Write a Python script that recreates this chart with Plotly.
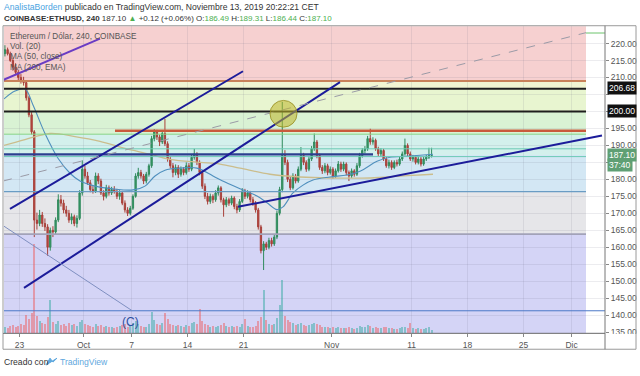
import plotly.graph_objects as go
import pandas as pd

# ---------------- data (8h candles) ----------------
opens = [217.0, 218.2, 217.0, 215.0, 213.0, 211.5, 210.0, 209.0, 208.5, 204.0,
         199.0, 194.0, 168.0, 167.0, 169.5, 167.0, 166.0, 160.0, 165.0, 164.5,
         168.0, 174.0, 173.0, 171.0, 170.0, 168.0, 169.0, 167.0, 168.5, 176.0,
         183.0, 181.0, 179.0, 177.0, 176.5, 181.0, 179.5, 176.0, 175.0, 177.5,
         176.0, 177.0, 176.5, 175.0, 176.0, 173.0, 171.0, 170.0, 171.5, 175.0,
         181.0, 182.0, 181.0, 179.5, 181.5, 184.0, 192.0, 194.0, 192.5, 191.0,
         193.5, 190.5, 186.0, 184.0, 182.0, 183.5, 181.5, 183.0, 182.0, 184.0,
         183.0, 186.5, 187.5, 185.0, 182.0, 178.0, 175.0, 173.5, 175.0, 174.0,
         176.0, 177.5, 174.0, 172.5, 174.0, 173.0, 174.5, 172.0, 171.0, 173.5,
         176.5, 175.0, 176.0, 174.0, 173.0, 171.0, 166.0, 159.0, 161.0, 160.0,
         162.0, 161.0, 163.0, 170.0, 177.0, 187.0, 185.0, 180.0, 177.5, 181.0,
         179.5, 183.0, 187.0, 185.0, 183.0, 186.0, 189.0, 191.0, 187.0, 183.5,
         182.5, 184.0, 182.0, 183.0, 181.0, 182.5, 184.5, 183.0, 184.5, 182.0,
         181.0, 182.5, 181.5, 184.0, 187.0, 188.5, 189.0, 192.0, 191.0, 191.5,
         189.0, 187.5, 188.5, 186.0, 184.0, 185.0, 183.5, 185.0, 184.5, 186.0,
         187.5, 190.0, 187.5, 186.0, 186.5, 185.0, 186.0, 184.5, 186.0, 186.5,
         187.0]
highs = [219.5, 218.8, 217.6, 215.8, 214.2, 212.3, 211.0, 210.2, 209.0, 204.6,
         199.8, 194.5, 170.2, 171.0, 170.4, 168.5, 166.8, 165.8, 166.2, 168.8,
         175.6, 175.4, 174.0, 172.2, 171.0, 170.0, 169.6, 169.4, 176.8, 185.6,
         184.0, 182.2, 179.8, 178.0, 182.0, 181.8, 180.2, 176.8, 178.4, 178.2,
         177.8, 178.0, 177.2, 176.8, 176.6, 173.8, 171.8, 172.2, 175.6, 181.8,
         183.4, 182.8, 181.6, 182.2, 184.6, 192.8, 194.8, 194.6, 193.2, 194.2,
         197.8, 191.2, 186.8, 184.8, 184.4, 184.2, 183.8, 183.6, 185.0, 184.8,
         187.2, 189.0, 188.0, 185.6, 182.6, 178.8, 176.0, 175.8, 175.6, 176.8,
         178.2, 178.0, 174.6, 174.8, 174.6, 175.2, 175.0, 172.8, 174.2, 177.4,
         177.2, 176.8, 176.6, 174.8, 173.6, 171.6, 166.6, 161.8, 161.6, 162.8,
         162.8, 163.8, 170.8, 177.8, 202.8, 188.6, 185.8, 180.8, 181.8, 181.6,
         183.8, 189.5, 187.8, 185.6, 186.8, 189.8, 193.5, 191.6, 187.6, 184.2,
         184.8, 184.6, 183.8, 183.6, 183.2, 185.4, 185.2, 185.2, 185.0, 182.6,
         183.2, 183.0, 184.8, 187.8, 189.2, 189.8, 192.8, 194.9, 192.4, 192.0,
         189.6, 189.2, 189.0, 186.6, 185.8, 185.6, 185.6, 185.8, 186.6, 188.2,
         192.0, 190.6, 188.2, 187.2, 187.0, 186.8, 186.6, 186.6, 187.2, 189.3,
         189.31]
lows = [216.2, 216.5, 214.6, 212.0, 210.8, 209.2, 208.2, 207.6, 203.2, 198.3,
        193.2, 163.0, 165.2, 166.2, 166.0, 164.8, 157.5, 159.0, 163.0, 163.8,
        167.4, 172.0, 170.0, 169.0, 167.2, 166.8, 166.2, 165.8, 168.0, 175.2,
        180.2, 178.4, 176.2, 175.8, 176.0, 178.6, 175.4, 173.8, 174.4, 175.2,
        175.4, 175.8, 174.2, 174.0, 172.4, 170.2, 169.2, 169.4, 171.0, 174.6,
        180.2, 180.2, 178.6, 178.8, 180.8, 183.4, 191.2, 191.6, 189.8, 190.4,
        189.8, 185.2, 183.2, 180.6, 181.2, 180.4, 180.8, 181.2, 181.4, 182.2,
        182.4, 185.8, 184.2, 181.2, 177.2, 174.2, 172.6, 172.8, 173.0, 173.4,
        175.2, 173.2, 169.0, 171.8, 172.2, 172.4, 171.2, 170.0, 170.4, 173.0,
        174.2, 174.4, 173.2, 172.2, 170.2, 165.2, 158.2, 153.3, 159.2, 159.4,
        160.2, 160.4, 162.4, 169.4, 176.2, 184.2, 179.2, 176.8, 177.0, 178.8,
        179.0, 182.4, 184.2, 182.2, 182.4, 185.4, 188.4, 186.2, 182.8, 181.6,
        181.8, 181.2, 181.4, 180.2, 180.4, 182.0, 182.2, 182.4, 181.2, 179.5,
        180.4, 180.8, 181.0, 183.4, 186.4, 187.6, 188.4, 190.2, 190.2, 188.4,
        186.8, 186.8, 185.4, 183.4, 183.2, 182.8, 183.0, 183.8, 184.0, 185.4,
        187.0, 186.8, 185.4, 185.2, 184.4, 184.4, 183.8, 184.0, 185.4, 186.0,
        186.44]
closes = [218.2, 217.0, 215.0, 213.0, 211.5, 210.0, 209.0, 208.5, 204.0, 199.0,
          194.0, 168.0, 167.0, 169.5, 167.0, 166.0, 160.0, 165.0, 164.5, 168.0,
          174.0, 173.0, 171.0, 170.0, 168.0, 169.0, 167.0, 168.5, 176.0, 183.0,
          181.0, 179.0, 177.0, 176.5, 181.0, 179.5, 176.0, 175.0, 177.5, 176.0,
          177.0, 176.5, 175.0, 176.0, 173.0, 171.0, 170.0, 171.5, 175.0, 181.0,
          182.0, 181.0, 179.5, 181.5, 184.0, 192.0, 194.0, 192.5, 191.0, 193.5,
          190.5, 186.0, 184.0, 182.0, 183.5, 181.5, 183.0, 182.0, 184.0, 183.0,
          186.5, 187.5, 185.0, 182.0, 178.0, 175.0, 173.5, 175.0, 174.0, 176.0,
          177.5, 174.0, 172.5, 174.0, 173.0, 174.5, 172.0, 171.0, 173.5, 176.5,
          175.0, 176.0, 174.0, 173.0, 171.0, 166.0, 159.0, 161.0, 160.0, 162.0,
          161.0, 163.0, 170.0, 177.0, 187.0, 185.0, 180.0, 177.5, 181.0, 179.5,
          183.0, 187.0, 185.0, 183.0, 186.0, 189.0, 191.0, 187.0, 183.5, 182.5,
          184.0, 182.0, 183.0, 181.0, 182.5, 184.5, 183.0, 184.5, 182.0, 181.0,
          182.5, 181.5, 184.0, 187.0, 188.5, 189.0, 192.0, 191.0, 191.5, 189.0,
          187.5, 188.5, 186.0, 184.0, 185.0, 183.5, 185.0, 184.5, 186.0, 187.5,
          190.0, 187.5, 186.0, 186.5, 185.0, 186.0, 184.5, 186.0, 186.5, 187.0,
          187.1]
volumes = [60, 50, 70, 80, 60, 70, 90, 80, 180, 140,
           200, 900, 170, 120, 100, 90, 160, 340, 110, 90,
           120, 80, 90, 70, 100, 80, 90, 70, 110, 130,
           90, 80, 70, 60, 90, 70, 80, 60, 70, 60,
           60, 50, 60, 70, 80, 90, 60, 70, 100, 120,
           90, 70, 60, 60, 90, 210, 130, 90, 80, 100,
           200, 140, 90, 80, 70, 80, 70, 60, 80, 70,
           100, 110, 90, 240, 120, 90, 80, 60, 70, 60,
           70, 80, 100, 70, 60, 70, 60, 70, 60, 90,
           140, 70, 60, 60, 70, 120, 160, 440, 130, 90,
           80, 90, 150, 290, 540, 170, 130, 110, 100, 80,
           90, 100, 80, 70, 80, 90, 100, 90, 80, 60,
           60, 60, 50, 60, 50, 60, 50, 50, 50, 60,
           50, 40, 50, 70, 60, 60, 80, 70, 50, 60,
           50, 50, 60, 60, 50, 50, 40, 40, 50, 60,
           60, 50, 100, 50, 40, 50, 40, 40, 50, 60,
           30]
times = pd.date_range("2019-09-21 04:00", periods=len(closes), freq="8h")

ma50_dates = ["2019-09-21 01:12", "2019-09-22 10:12", "2019-09-23 16:12", "2019-09-24 16:12",
              "2019-09-26 04:12", "2019-09-27 19:12", "2019-09-29 07:12", "2019-09-30 13:12",
              "2019-10-02 10:12", "2019-10-04 16:12", "2019-10-07 04:12", "2019-10-08 16:12",
              "2019-10-09 22:12", "2019-10-11 04:12", "2019-10-13 01:12", "2019-10-15 04:12",
              "2019-10-17 04:12", "2019-10-18 16:12", "2019-10-20 13:12", "2019-10-22 16:12",
              "2019-10-23 22:12", "2019-10-25 04:12", "2019-10-25 22:12", "2019-10-27 04:12",
              "2019-10-28 10:12", "2019-10-29 16:12", "2019-10-31 19:12", "2019-11-02 22:12",
              "2019-11-04 13:12", "2019-11-06 16:12", "2019-11-08 07:12", "2019-11-10 04:12",
              "2019-11-12 01:12", "2019-11-13 16:12"]
ma50_vals = [203.7, 206.0, 206.6, 201.9, 193.5, 186.2, 181.8, 179.5, 178.0, 177.2,
             176.9, 178.0, 181.0, 182.7, 183.3, 183.3, 181.0, 179.2, 177.2, 175.1,
             173.1, 171.1, 171.9, 176.0, 178.3, 179.8, 180.7, 181.3, 182.4, 185.3,
             186.5, 186.8, 187.1, 187.4]
ema200_dates = ["2019-09-21 01:12", "2019-09-23 16:12", "2019-09-26 19:12", "2019-09-29 22:12",
                "2019-10-03 01:12", "2019-10-06 04:12", "2019-10-09 07:12", "2019-10-11 19:12",
                "2019-10-15 13:12", "2019-10-18 01:12", "2019-10-20 13:12", "2019-10-24 07:12",
                "2019-10-28 01:12", "2019-10-31 19:12", "2019-11-05 19:12", "2019-11-09 22:12",
                "2019-11-13 16:12"]
ema200_vals = [190.0, 191.7, 193.5, 192.6, 191.2, 189.1, 187.4, 185.9, 185.0, 184.5,
               183.3, 181.5, 180.7, 180.4, 180.4, 181.0, 181.5]

price_ticks = list(range(135, 221, 5))
hidden_ticks = [185, 200, 205]   # covered by the price boxes in the reference
date_ticks = ["2019-09-23", "2019-10-01", "2019-10-07", "2019-10-14", "2019-10-21",
              "2019-11-01", "2019-11-11", "2019-11-18", "2019-11-25", "2019-12-01"]
date_labels = ["23", "Oct", "7", "14", "21", "Nov", "11", "18", "25", "Dic"]

# ---------------- layout constants ----------------
W, H = 640, 376
PX0, PX1 = 4, 605          # plot area pixels
PY0, PY1 = 26.5, 337       # top / bottom pixels
X_LEFT, X_RIGHT = "2019-09-21 01:12", "2019-12-05 04:12"
Y_LO, Y_HI = 134.63, 225.10
ZONE_END = "2019-12-02 19:12"
FONT = "Liberation Sans, Arial"
TXT = "#555555"


def px(x):
    return x / W


def py(y):
    return 1 - y / H


fig = go.Figure()

vol_colors = ["rgba(38,166,154,0.45)" if c >= o else "rgba(239,83,80,0.45)"
              for o, c in zip(opens, closes)]
fig.add_trace(go.Bar(x=times, y=volumes, marker=dict(color=vol_colors, line_width=0),
                     width=8 * 3600 * 1000 * 0.7, yaxis="y2", hoverinfo="skip"))

fig.add_trace(go.Scatter(x=ema200_dates, y=ema200_vals, mode="lines",
                         line=dict(color="#cbbd8c", width=1.3, shape="spline"), hoverinfo="skip"))
fig.add_trace(go.Scatter(x=ma50_dates, y=ma50_vals, mode="lines",
                         line=dict(color="#4f8fbd", width=1.1, shape="spline"), hoverinfo="skip"))

fig.add_trace(go.Candlestick(
    x=times, open=opens, high=highs, low=lows, close=closes,
    increasing=dict(line=dict(color="#2f8a5c", width=1), fillcolor="#3a9a66"),
    decreasing=dict(line=dict(color="#a8403a", width=1), fillcolor="#b8453c"),
    whiskerwidth=0, hoverinfo="skip"))

shapes = []
# colour zones
zones = [
    (208.95, 226, "#f6d0d0"),
    (206.68, 208.95, "#f1f5d2"),
    (200.0, 206.68, "#e8f5d0"),
    (193.3, 200.0, "#d9f2d4"),
    (187.2, 193.3, "#d3f0ec"),
    (176.4, 187.2, "#d3e7f4"),
    (163.85, 176.4, "#e6e6e9"),
    (130, 163.85, "#d4d4f6"),
]
for lo, hi, col in zones:
    shapes.append(dict(type="rect", xref="x", yref="y", x0=X_LEFT, x1=ZONE_END, y0=lo, y1=hi,
                       fillcolor=col, line_width=0, layer="below"))

# horizontal levels
levels = [
    (208.95, X_LEFT, ZONE_END, "#c9825a", 2),
    (206.68, X_LEFT, ZONE_END, "#1e1e1e", 2),
    (200.0, X_LEFT, ZONE_END, "#1e1e1e", 2),
    (194.3, "2019-10-04 22:12", ZONE_END, "#c95a3c", 2.5),
    (193.3, X_LEFT, ZONE_END, "#86d486", 1),
    (189.0, X_LEFT, ZONE_END, "#6cc9b6", 1),
    (186.7, X_LEFT, ZONE_END, "#6cc9b6", 1),
    (187.35, X_LEFT, "2019-11-06 04:12", "#2c3f8f", 2.2),
    (176.4, X_LEFT, ZONE_END, "#6a9cc4", 1.2),
    (163.85, X_LEFT, ZONE_END, "#a2a2b8", 1.8),
    (141.3, X_LEFT, X_RIGHT, "#4c78c8", 1),
    (223.1, ZONE_END, X_RIGHT, "#6cc46c", 1),
]
for yv, x0, x1, col, w in levels:
    shapes.append(dict(type="line", xref="x", yref="y", x0=x0, x1=x1, y0=yv, y1=yv,
                       line=dict(color=col, width=w), layer="above"))

# drawings
drawings = [
    ("2019-09-21 19:12", 171.34, "2019-10-20 22:12", 211.84, "#1c1c9a", 2, "solid"),
    ("2019-09-23 13:12", 148.03, "2019-11-02 01:12", 208.64, "#1c1c9a", 2, "solid"),
    ("2019-10-20 07:12", 171.92, "2019-12-04 19:12", 192.90, "#1c1c9a", 2, "solid"),
    ("2019-09-20 22:12", 209.22, "2019-10-03 01:12", 221.46, "#6a3cc4", 2, "solid"),
    ("2019-09-20 22:12", 179.50, ZONE_END, 223.20, "#9a9aa6", 1, "dash"),
    ("2019-09-20 22:12", 166.39, "2019-10-07 01:26", 141.33, "#7f8fc0", 1, "solid"),
]
for x0, y0, x1, y1, col, w, dash in drawings:
    shapes.append(dict(type="line", xref="x", yref="y", x0=x0, y0=y0, x1=x1, y1=y1,
                       line=dict(color=col, width=w, dash=dash), layer="above"))

shapes.append(dict(type="circle", xref="x", yref="y", x0="2019-10-24 07:12", x1="2019-10-27 16:12",
                   y0=195.38, y1=203.25, fillcolor="rgba(190,180,40,0.55)",
                   line=dict(color="rgba(150,140,30,0.8)", width=1), layer="above"))

# frame
frame = "#9a9a9a"
shapes += [
    dict(type="rect", xref="paper", yref="paper", x0=px(606), x1=px(637), y0=py(352.5), y1=py(337.5),
         fillcolor="white", line_width=0, layer="above"),
    dict(type="line", xref="paper", yref="paper", x0=px(3), x1=px(636), y0=py(26), y1=py(26),
         line=dict(color=frame, width=1)),
    dict(type="line", xref="paper", yref="paper", x0=px(3), x1=px(636), y0=py(353), y1=py(353),
         line=dict(color=frame, width=1)),
    dict(type="line", xref="paper", yref="paper", x0=px(3), x1=px(3), y0=py(26), y1=py(353),
         line=dict(color=frame, width=1)),
    dict(type="line", xref="paper", yref="paper", x0=px(636), x1=px(636), y0=py(26), y1=py(353),
         line=dict(color=frame, width=1)),
    dict(type="line", xref="paper", yref="paper", x0=px(605), x1=px(605), y0=py(26), y1=py(353),
         line=dict(color="#777777", width=1)),
    dict(type="line", xref="paper", yref="paper", x0=px(3), x1=px(605), y0=py(337), y1=py(337),
         line=dict(color="#777777", width=1)),
]

annotations = []


def txt(x, y, text, size=9, color=TXT, family=FONT, **kw):
    annotations.append(dict(xref="paper", yref="paper", x=px(x), y=py(y), text=text,
                            showarrow=False, xanchor=kw.pop("xanchor", "left"), yanchor="middle",
                            font=dict(size=size, color=color, family=family), **kw))


G = "#4caf50"
txt(2, 7.5, "<span style='color:#4aa3df'>AnalistaBorden</span> publicado en TradingView.com, "
            "Noviembre 13, 2019 20:22:21 CET", size=8.6, color="#333333")
txt(2, 18.5, "<b>COINBASE:ETHUSD, 240</b> 187.10 <span style='color:%s'>▲</span> +0.12 (+0.06%%) "
             "O:<span style='color:%s'>186.49</span> H:<span style='color:%s'>189.31</span> "
             "L:<span style='color:%s'>186.44</span> C:<span style='color:%s'>187.10</span>"
    % (G, G, G, G, G), size=8, color="#333333")

txt(8, 37, "Ethereum / Dólar, 240, COINBASE", size=8.2)
txt(8, 47.5, "Vol. (20)", size=8.2)
txt(8, 57.5, "MA (50, close)", size=8.2)
txt(8, 68, "MA (200, EMA)", size=8.2)

annotations.append(dict(xref="x", yref="y", x="2019-10-06 22:00", y=138.1, text="(C)", showarrow=False,
                        font=dict(size=12, color="#2d4f9e", family="Liberation Sans")))

for label, yv, bg in [("206.68", 89.2, "#111111"), ("200.00", 111.7, "#111111"),
                      ("187.10", 156.2, "#5f9f74"), ("37:40", 166.5, "#5f9f74")]:
    annotations.append(dict(xref="paper", yref="paper", x=px(607), y=py(yv), text=label,
                            showarrow=False, xanchor="left", yanchor="middle", bgcolor=bg,
                            borderpad=1, font=dict(size=8.5, color="white", family="Liberation Sans")))

txt(2, 366, "Creado con", size=8.6, color="#333333")
txt(58, 366, "TradingView", size=8.6, color="#5fa8de")
shapes.append(dict(type="path", xref="paper", yref="paper",
                   path="M %f %f L %f %f L %f %f L %f %f Z" % (px(46), py(369), px(50), py(362),
                                                              px(53), py(366), px(57), py(362)),
                   fillcolor="#5fa8de", line=dict(color="#5fa8de", width=1)))

fig.update_layout(
    width=W, height=H, margin=dict(l=0, r=0, t=0, b=0),
    paper_bgcolor="white", plot_bgcolor="white", showlegend=False,
    shapes=shapes, annotations=annotations, bargap=0,
    xaxis=dict(type="date", range=[X_LEFT, X_RIGHT], domain=[px(PX0), px(PX1)],
               rangeslider=dict(visible=False), tickvals=date_ticks, ticktext=date_labels,
               ticks="outside", ticklen=3, tickcolor="#888888",
               tickfont=dict(size=8.5, color=TXT, family="Liberation Sans"),
               showgrid=True, gridcolor="rgba(110,110,130,0.13)", gridwidth=1,
               zeroline=False, showline=False, fixedrange=True),
    yaxis=dict(range=[Y_LO, Y_HI], domain=[py(PY1), py(PY0)], side="right",
               tickvals=price_ticks,
               ticktext=["" if v in hidden_ticks else "%.2f" % v for v in price_ticks],
               ticks="outside", ticklen=3, tickcolor="#888888",
               tickfont=dict(size=8.5, color=TXT, family="Liberation Sans"),
               showgrid=True, gridcolor="rgba(110,110,130,0.13)", gridwidth=1,
               zeroline=False, showline=False, fixedrange=True),
    yaxis2=dict(range=[0, 3105], overlaying="y", visible=False, fixedrange=True),
)

fig.write_html("out.html")
